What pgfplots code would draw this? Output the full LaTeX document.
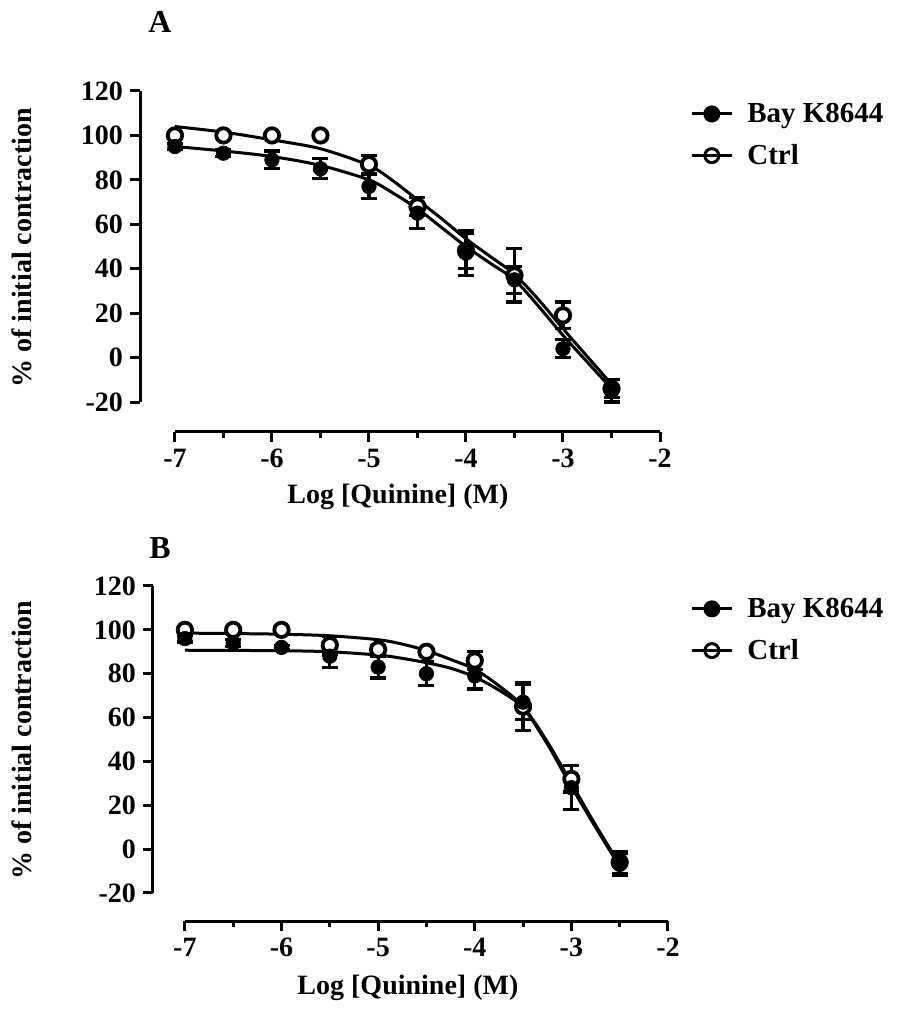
\documentclass[border=0pt]{standalone}
\usepackage{fontspec}
\setmainfont{Liberation Serif}
\usepackage{pgfplots}
\pgfplotsset{compat=1.18}

\newcommand{\fnt}{\fontsize{14}{16}\selectfont\bfseries}

\pgfplotsset{
  prism/.style={
    scale only axis,
    axis lines=left,
    axis line style={-, line width=1.5pt},
    xmax=-2, ymax=120,
    xtick={-7,-6,-5,-4,-3,-2}, ytick={-20,0,20,40,60,80,100,120},
    minor x tick num=1,
    tick align=outside,
    major tick length=5pt, minor tick length=3pt,
    tick style={black, line width=1.5pt},
    /pgf/number format/assume math mode=true,
    tick label style={font=\fnt},
    label style={font=\fnt},
    xlabel={Log [Quinine] (M)},
    ylabel={\% of initial contraction},
    clip=false,
    legend style={draw=none, fill=none, font=\fontsize{14.5}{16}\selectfont\bfseries,
      anchor=north west, row sep=5.5pt,
      /tikz/every odd column/.append style={column sep=5pt}},
    legend cell align=left,
    legend image code/.code={\draw[mark repeat=2,mark phase=2,#1]
      plot coordinates {(0pt,0pt) (10pt,0pt) (20pt,0pt)};},
  },
  fit/.style={black, line width=1.5pt, smooth, no marks, forget plot},
  ebars/.style={error bars/.cd, y dir=both, y explicit,
    error bar style={line width=1.6pt},
    error mark options={rotate=90, mark size=4pt, line width=1.6pt}},
  bay/.style={black, only marks, mark=*, mark size=3.6pt, forget plot, ebars},
  ctrl/.style={black, only marks, mark=*, mark size=3.6pt,
    mark options={fill=white, line width=1.9pt}, forget plot, ebars},
}

\begin{document}
\begin{tikzpicture}
\useasboundingbox (0,0) rectangle (450pt,506pt);

% panel A
\begin{axis}[prism,
  at={(70pt,290pt)}, anchor=south west,
  width=260pt, height=170.5pt,
  xmin=-7.36, ymin=-33.5,
  x axis line style={shorten <=17.5pt},
  y axis line style={shorten <=15pt},
  xlabel style={at={(axis description cs:0.496,-0.19)}, anchor=center},
  ylabel style={at={(axis description cs:-0.227,0.54)}, anchor=center},
  legend style={at={(axis description cs:1.046,0.99)}},
]
\addplot[fit] coordinates {(-7,104) (-6.5,101.5) (-6,98) (-5.5,94) (-5,86.5)
  (-4.75,79.5) (-4.5,71) (-4.25,62.5) (-4,53.5) (-3.75,45.5) (-3.5,37.5)
  (-3.25,26) (-3,13) (-2.75,0.5) (-2.5,-12)};
\addplot[fit] coordinates {(-7,95) (-6.5,93) (-6,90.5) (-5.5,86.5) (-5,80)
  (-4.75,74) (-4.5,67) (-4.25,58.5) (-4,50) (-3.75,42.5) (-3.5,35)
  (-3.25,23) (-3,10) (-2.75,-2) (-2.5,-14)};
\addplot[ctrl] coordinates {
  (-7,100) +- (0,0) (-6.5,100) +- (0,0) (-6,100) +- (0,0) (-5.5,100) +- (0,0)
  (-5,87) +- (0,4) (-4.5,68) +- (0,4) (-4,48) +- (0,8) (-3.5,37) +- (0,12)
  (-3,19) +- (0,6) (-2.5,-14) +- (0,4)};
\addplot[bay] coordinates {
  (-7,95) +- (0,1.5) (-6.5,92) +- (0,1.5) (-6,89) +- (0,4) (-5.5,85) +- (0,4.5)
  (-5,77) +- (0,5.5) (-4.5,65) +- (0,7) (-4,47) +- (0,10) (-3.5,35) +- (0,6)
  (-3,4) +- (0,4) (-2.5,-15) +- (0,5)};
\addlegendimage{black, line width=1.5pt, mark=*, mark size=3.5pt}
\addlegendentry{Bay K8644}
\addlegendimage{black, line width=1.5pt, mark=o, mark size=3.5pt}
\addlegendentry{Ctrl}
\end{axis}

% panel B
\begin{axis}[prism,
  at={(76.5pt,45.5pt)}, anchor=south west,
  width=257.5pt, height=167.5pt,
  xmin=-7.33, ymin=-32.8,
  x axis line style={shorten <=16pt},
  y axis line style={shorten <=14pt},
  xlabel style={at={(axis description cs:0.495,-0.2)}, anchor=center},
  ylabel style={at={(axis description cs:-0.254,0.54)}, anchor=center},
  legend style={at={(axis description cs:1.031,0.99)}},
]
\addplot[fit] coordinates {(-7,98.5) (-6.5,98.3) (-6,98) (-5.5,97.3) (-5,95.5)
  (-4.75,93.5) (-4.5,90.5) (-4.25,86.5) (-4,82) (-3.75,74.5) (-3.5,65)
  (-3.25,49) (-3,30) (-2.75,11) (-2.5,-7)};
\addplot[fit] coordinates {(-7,90.7) (-6.5,90.6) (-6,90.5) (-5.5,90) (-5,88.5)
  (-4.75,87) (-4.5,85) (-4.25,82.5) (-4,78.5) (-3.75,72.5) (-3.5,64.5)
  (-3.25,48) (-3,28.5) (-2.75,10) (-2.5,-8)};
\addplot[ctrl] coordinates {
  (-7,100) +- (0,0) (-6.5,100) +- (0,0) (-6,100) +- (0,0) (-5.5,93) +- (0,4)
  (-5,91) +- (0,2) (-4.5,90) +- (0,1) (-4,86) +- (0,4) (-3.5,65) +- (0,11)
  (-3,32) +- (0,6) (-2.5,-6) +- (0,5)};
\addplot[bay] coordinates {
  (-7,96) +- (0,1.5) (-6.5,94) +- (0,1.5) (-6,92) +- (0,1) (-5.5,88) +- (0,5)
  (-5,83) +- (0,5) (-4.5,80) +- (0,5.5) (-4,79) +- (0,6) (-3.5,67) +- (0,8)
  (-3,28) +- (0,10) (-2.5,-7) +- (0,5)};
\addlegendimage{black, line width=1.5pt, mark=*, mark size=3.5pt}
\addlegendentry{Bay K8644}
\addlegendimage{black, line width=1.5pt, mark=o, mark size=3.5pt}
\addlegendentry{Ctrl}
\end{axis}

\node[font=\fontsize{16}{18}\selectfont\bfseries] at (80pt,495pt) {A};
\node[font=\fontsize{16}{18}\selectfont\bfseries] at (80pt,232pt) {B};
\end{tikzpicture}
\end{document}
